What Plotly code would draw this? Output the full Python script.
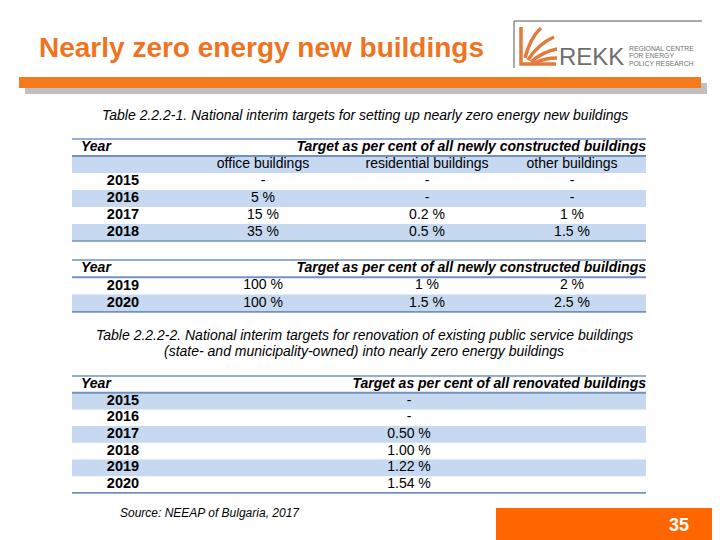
import plotly.graph_objects as go

# ---------------- data ----------------
title = "Nearly zero energy new buildings"
caption1 = "Table 2.2.2-1. National interim targets for setting up nearly zero energy new buildings"
caption2 = ["Table 2.2.2-2. National interim targets for renovation of existing public service buildings",
            "(state- and municipality-owned) into nearly zero energy buildings"]
year_label = "Year"
target_new_label = "Target as per cent of all newly constructed buildings"
target_renov_label = "Target as per cent of all renovated buildings"
building_types = ["office buildings", "residential buildings", "other buildings"]

years1 = ["2015", "2016", "2017", "2018"]
office1 = ["-", "5 %", "15 %", "35 %"]
residential1 = ["-", "-", "0.2 %", "0.5 %"]
other1 = ["-", "-", "1 %", "1.5 %"]

years2 = ["2019", "2020"]
office2 = ["100 %", "100 %"]
residential2 = ["1 %", "1.5 %"]
other2 = ["2 %", "2.5 %"]

years3 = ["2015", "2016", "2017", "2018", "2019", "2020"]
renovated = ["-", "-", "0.50 %", "1.00 %", "1.22 %", "1.54 %"]

source = "Source: NEEAP of Bulgaria, 2017"
page_number = "35"
logo_lines = ["REGIONAL CENTRE", "FOR ENERGY", "POLICY RESEARCH"]

# ---------------- style ----------------
FONT = "Arial, 'Liberation Sans', sans-serif"
ORANGE = "#EE7422"
BLUE_FILL = "#C6D9F0"
LINE = "#7391C0"
X_LEFT, X_RIGHT = 72, 646
X_YEAR, X_COLS = 123, [263, 427, 572]
X_RENOV = 409
FS = 14
# the page body has an 8px margin; offset the coordinate frame so that
# data coordinates equal window pixels
OFF = 8

fig = go.Figure()
shapes = []
ann = []


def rect(x0, y0, x1, y1, color, **kw):
    shapes.append(dict(type="rect", xref="x", yref="y", x0=x0, y0=y0, x1=x1, y1=y1,
                       fillcolor=color, line=dict(width=0), layer="below", **kw))


def hline(y, w=1.6):
    shapes.append(dict(type="line", xref="x", yref="y", x0=X_LEFT, x1=X_RIGHT, y0=y, y1=y,
                       line=dict(color=LINE, width=w), layer="above"))


def text_trace(xs, ys, texts, size=FS, bold=False, italic=False, pos="middle center", color="black"):
    fig.add_trace(go.Scatter(
        x=xs, y=ys, text=texts, mode="text", textposition=pos, hoverinfo="skip",
        showlegend=False,
        textfont=dict(family=FONT, size=size, color=color,
                      weight="bold" if bold else "normal",
                      style="italic" if italic else "normal")))


# ---------------- header band ----------------
rect(25, 83, 707, 94, "#BFBFBF")
rect(19, 77, 701, 88, "#F47A1F")
ann.append(dict(x=37, y=47, xref="x", yref="y", text=f"<b>{title}</b>", showarrow=False,
                xanchor="left", yanchor="middle", font=dict(family=FONT, size=28, color=ORANGE)))

# logo
shapes.append(dict(type="line", xref="x", yref="y", x0=514, x1=514, y0=21, y1=68,
                   line=dict(color="#555555", width=1)))
shapes.append(dict(type="line", xref="x", yref="y", x0=514, x1=702, y0=21, y1=21,
                   line=dict(color="#555555", width=1)))
logo_paths = ["M 521 27 L 521 64 L 556 64", "M 525 58 Q 530 38 541 28",
              "M 528 60 Q 538 44 554 37", "M 531 62 Q 542 52 557 49",
              "M 534 63 Q 545 58 557 58"]
for p in logo_paths:
    shapes.append(dict(type="path", xref="x", yref="y", path=p,
                       line=dict(color="#E47B3C", width=3.5)))
ann.append(dict(x=557, y=56, xref="x", yref="y", text="REKK", showarrow=False,
                xanchor="left", yanchor="middle", font=dict(family=FONT, size=24, color="#6E6E6E")))
for i, t in enumerate(logo_lines):
    ann.append(dict(x=627, y=48 + 7.5 * i, xref="x", yref="y", text=t, showarrow=False,
                    xanchor="left", yanchor="middle", font=dict(family=FONT, size=6.8, color="#707070")))

# ---------------- table 1 ----------------
ann.append(dict(x=364.5, y=115, xref="x", yref="y", text=f"<i>{caption1}</i>", showarrow=False,
                xanchor="center", yanchor="middle", font=dict(family=FONT, size=FS, color="black")))
T1_TOP, RH1 = 139, 17
rect(X_LEFT, T1_TOP + RH1, X_RIGHT, T1_TOP + 2 * RH1, BLUE_FILL)
for i in range(len(years1)):
    if i % 2 == 1:
        rect(X_LEFT, T1_TOP + (i + 2) * RH1, X_RIGHT, T1_TOP + (i + 3) * RH1, BLUE_FILL)
hline(T1_TOP)
hline(T1_TOP + RH1, 2)
hline(T1_TOP + (len(years1) + 2) * RH1)
text_trace([81], [T1_TOP + RH1 / 2], [year_label], bold=True, italic=True, pos="middle right")
text_trace([X_RIGHT], [T1_TOP + RH1 / 2], [target_new_label], bold=True, italic=True, pos="middle left")
text_trace(X_COLS, [T1_TOP + 1.5 * RH1] * 3, building_types)
ys1 = [T1_TOP + (i + 2.5) * RH1 for i in range(len(years1))]
text_trace([X_YEAR] * len(years1), ys1, years1, bold=True, size=14.5)
for xc, col in zip(X_COLS, [office1, residential1, other1]):
    text_trace([xc] * len(col), ys1, col)

# ---------------- table 2 ----------------
T2_TOP, RH2 = 260, 17.3
for i in range(len(years2)):
    if i % 2 == 1:
        rect(X_LEFT, T2_TOP + (i + 1) * RH2, X_RIGHT, T2_TOP + (i + 2) * RH2, BLUE_FILL)
hline(T2_TOP)
hline(T2_TOP + RH2, 2)
hline(T2_TOP + (len(years2) + 1) * RH2)
text_trace([81], [T2_TOP + RH2 / 2], [year_label], bold=True, italic=True, pos="middle right")
text_trace([X_RIGHT], [T2_TOP + RH2 / 2], [target_new_label], bold=True, italic=True, pos="middle left")
ys2 = [T2_TOP + (i + 1.5) * RH2 for i in range(len(years2))]
text_trace([X_YEAR] * len(years2), ys2, years2, bold=True, size=14.5)
for xc, col in zip(X_COLS, [office2, residential2, other2]):
    text_trace([xc] * len(col), ys2, col)

# ---------------- table 3 ----------------
for i, line in enumerate(caption2):
    ann.append(dict(x=364, y=335 + 16 * i, xref="x", yref="y", text=f"<i>{line}</i>", showarrow=False,
                    xanchor="center", yanchor="middle", font=dict(family=FONT, size=FS, color="black")))
T3_TOP, RH3 = 376, 16.7
for i in range(len(years3)):
    if i % 2 == 0:
        rect(X_LEFT, T3_TOP + (i + 1) * RH3, X_RIGHT, T3_TOP + (i + 2) * RH3, BLUE_FILL)
hline(T3_TOP)
hline(T3_TOP + RH3, 2)
hline(T3_TOP + (len(years3) + 1) * RH3)
text_trace([81], [T3_TOP + RH3 / 2], [year_label], bold=True, italic=True, pos="middle right")
text_trace([X_RIGHT], [T3_TOP + RH3 / 2], [target_renov_label], bold=True, italic=True, pos="middle left")
ys3 = [T3_TOP + (i + 1.5) * RH3 for i in range(len(years3))]
text_trace([X_YEAR] * len(years3), ys3, years3, bold=True, size=14.5)
text_trace([X_RENOV] * len(renovated), ys3, renovated)

# ---------------- footer ----------------
ann.append(dict(x=118, y=513, xref="x", yref="y", text=f"<i>{source}</i>", showarrow=False,
                xanchor="left", yanchor="middle", font=dict(family=FONT, size=12, color="black")))
rect(496, 508, 730, 550, "#FF6600")
ann.append(dict(x=679, y=525, xref="x", yref="y", text=f"<b>{page_number}</b>", showarrow=False,
                xanchor="center", yanchor="middle", font=dict(family=FONT, size=18, color="white")))

fig.update_layout(
    width=720, height=540, margin=dict(l=0, r=0, t=0, b=0),
    paper_bgcolor="white", plot_bgcolor="white",
    xaxis=dict(range=[OFF, 720 + OFF], visible=False, fixedrange=True),
    yaxis=dict(range=[540 + OFF, OFF], visible=False, fixedrange=True),
    shapes=shapes, annotations=ann, showlegend=False,
)
fig.write_html("out.html")
